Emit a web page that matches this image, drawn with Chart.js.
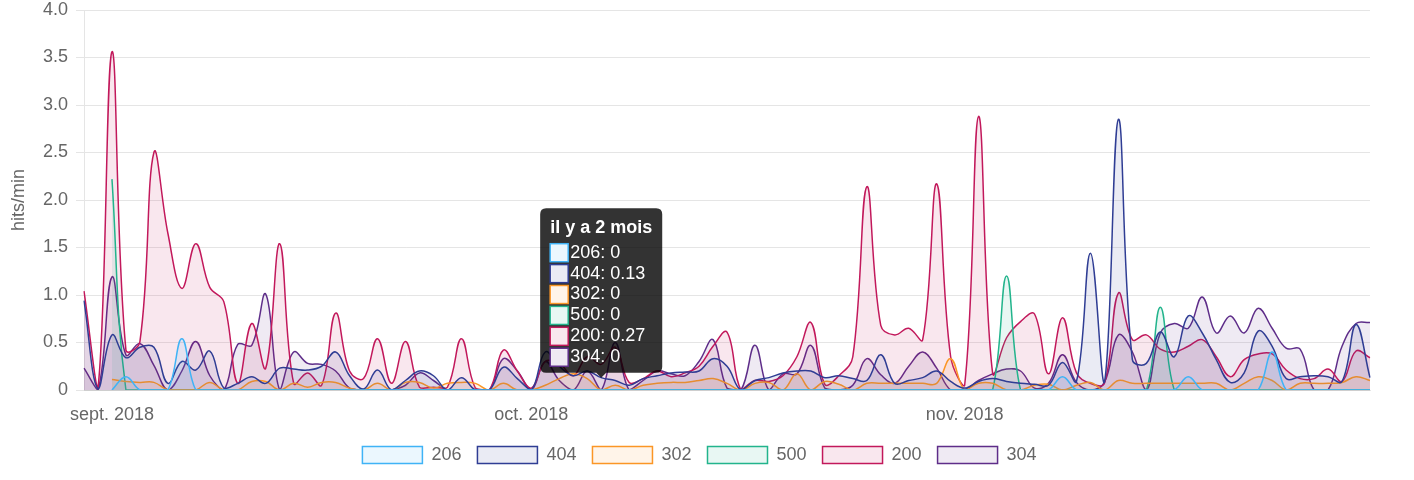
<!DOCTYPE html>
<html>
<head>
<meta charset="utf-8">
<script src="https://cdn.jsdelivr.net/npm/chart.js@4/dist/chart.umd.min.js"></script>
<style>
  html, body { margin: 0; padding: 0; background: #fff; }
  #wrap { width: 1414px; height: 480px; }
</style>
</head>
<body>
<div id="wrap"><canvas id="c" width="1414" height="480"></canvas></div>
<script>
// Categories: one point per day, 30 Aug 2018 -> 30 Nov 2018
const days = [
  '08-30','08-31',
  '09-01','09-02','09-03','09-04','09-05','09-06','09-07','09-08','09-09','09-10',
  '09-11','09-12','09-13','09-14','09-15','09-16','09-17','09-18','09-19','09-20',
  '09-21','09-22','09-23','09-24','09-25','09-26','09-27','09-28','09-29','09-30',
  '10-01','10-02','10-03','10-04','10-05','10-06','10-07','10-08','10-09','10-10',
  '10-11','10-12','10-13','10-14','10-15','10-16','10-17','10-18','10-19','10-20',
  '10-21','10-22','10-23','10-24','10-25','10-26','10-27','10-28','10-29','10-30','10-31',
  '11-01','11-02','11-03','11-04','11-05','11-06','11-07','11-08','11-09','11-10',
  '11-11','11-12','11-13','11-14','11-15','11-16','11-17','11-18','11-19','11-20',
  '11-21','11-22','11-23','11-24','11-25','11-26','11-27','11-28','11-29','11-30'
];
// Tick labels (month starts)
const tickDays = ['09-01', '10-01', '11-01'];
const tickLabels = ['sept. 2018', 'oct. 2018', 'nov. 2018'];

// Series (hits/min)
const s206 = [
  null,null,0,0.14,0,0,0,0.54,0,0,
  0,0,0,0,0,0,0,0,0,0,
  0,0,0,0,0,0,0,0,0,0,
  0,0,0,0,0,0,0,0,0,0,
  0,0,0,0,0,0,0,0,0,0,
  0,0,0,0,0,0,0,0,0,0,
  0,0,0,0,0,0,0,0,0,0,
  0.14,0,0,0,0,0,0,0,0,0.14,
  0,0,0,0,0,0.40,0,0,0,0,
  0,0,0
];
const s404 = [
  0.94,0.01,0.58,0.34,0.45,0.45,0.07,0.30,0.21,0.41,
  0.02,0.07,0.14,0.07,0.23,0.22,0.21,0.25,0.40,0.15,
  0.01,0.21,0,0.10,0.20,0.15,0,0.13,0,0,
  0.24,0.12,0,0.40,0.25,0.15,0.20,0.13,0.10,0.05,
  0.12,0.15,0.18,0.19,0.20,0.33,0.25,0,0.10,0.13,
  0.18,0.20,0.20,0.13,0.15,0.12,0.10,0.37,0.07,0.10,
  0.13,0.20,0.09,0.02,0.09,0.12,0.09,0.07,0.06,0.05,
  0.29,0.09,1.44,0.08,2.85,0.32,0.28,0.61,0.35,0.78,
  0.60,0.32,0.08,0.18,0.62,0.46,0.12,0.14,0.15,0.14,
  0.09,0.69,0.13
];
const s302 = [
  null,null,0.11,0.09,0.08,0.08,0,0,0,0.08,
  0,0,0.09,0.09,0,0.07,0.03,0.08,0.08,0.02,
  0,0.07,0,0.08,0.08,0.02,0.07,0.08,0.07,0,
  0.07,0,0,0.05,0.12,0.17,0.12,0,0.05,0,
  0.05,0.07,0.08,0.08,0.10,0.12,0.07,0,0.07,0.08,
  0,0.17,0,0.09,0.06,0,0.07,0.07,0.07,0.07,
  0.07,0.07,0.33,0,0.07,0.07,0,0,0.05,0.06,
  0,0.05,0.08,0,0.10,0.07,0.07,0.07,0.07,0.07,
  0.07,0.07,0,0.07,0.14,0.10,0,0.07,0.07,0.07,
  0.08,0.14,0.10
];
const s500 = [
  null,null,2.22,0,0,0,0,0,0,0,
  0,0,0,0,0,0,0,0,0,0,
  0,0,0,0,0,0,0,0,0,0,
  0,0,0,0,0,0,0,0,0,0,
  0,0,0,0,0,0,0,0,0,0,
  0,0,0,0,0,0,0,0,0,0,
  0,0,0,0,0,0,1.20,0,0,0,
  0,0,0,0,0,0,0,0.87,0,0,
  0,0,0,0,0,0,0,0,0,0,
  0,0,0
];
const s200 = [
  1.04,0.02,3.56,0.42,0.51,2.50,1.65,1.07,1.54,1.08,
  0.93,0.07,0.70,0.23,1.54,0.07,0.18,0.05,0.81,0.20,
  0.12,0.54,0.07,0.51,0.03,0.03,0.03,0.54,0.02,0,
  0.42,0.20,0.02,0.30,0.28,0.15,0.35,0.27,0.45,0.08,
  0.12,0.20,0.14,0.18,0.25,0.46,0.61,0,0.10,0.09,
  0.15,0.35,0.71,0.06,0.15,0.35,2.14,0.68,0.58,0.65,
  0.53,2.17,0.35,0.05,2.88,0.18,0.55,0.72,0.80,0.17,
  0.76,0.18,0.07,0.07,1.02,0.53,0.58,0.43,0.40,0.46,
  0.53,0.35,0.14,0.32,0.38,0.38,0.21,0.12,0.12,0.22,
  0.09,0.41,0.34
];
const s304 = [
  0.23,0,1.19,0.37,0.49,0.26,0,0.20,0.51,0.15,
  0,0.48,0.47,1.01,0,0.40,0.28,0.27,0.20,0.02,
  0,0,0,0.05,0.18,0.10,0,0,0,0,
  0.33,0.20,0,0.30,0.10,0,0.20,0,0.50,0,
  0.10,0.20,0.17,0.15,0.30,0.53,0.02,0,0.47,0,
  0.17,0.17,0.47,0.02,0,0.05,0.33,0.16,0.07,0.25,
  0.40,0.23,0,0,0.10,0.17,0.22,0.20,0.02,0.07,
  0.37,0.08,0,0.08,0.58,0.40,0,0.60,0.70,0.65,
  0.98,0.60,0.78,0.60,0.86,0.65,0.44,0.43,0,0,
  0.46,0.70,0.71
];

const seriesNames = ['206', '404', '302', '500', '200', '304'];
const seriesData = [s206, s404, s302, s500, s200, s304];
const lineColors = ['#3fb3f6', '#2f3d94', '#fb9626', '#22b48c', '#c2185b', '#5e2d89'];
const fillColors = ['rgba(63,179,246,0.1)', 'rgba(47,61,148,0.1)', 'rgba(251,150,38,0.1)',
                    'rgba(34,180,140,0.1)', 'rgba(194,24,91,0.1)', 'rgba(94,45,137,0.1)'];

const tooltipDay = '10-06';
const tooltipTitle = 'il y a 2 mois';

Chart.defaults.font.family = "'Liberation Sans', Arial, Helvetica, sans-serif";
Chart.defaults.font.size = 18;
Chart.defaults.color = '#666';

// Tooltip placed above the hovered points, caret pointing down
Chart.Tooltip.positioners.aboveAverage = function (elements, eventPosition) {
  const pos = Chart.Tooltip.positioners.average.call(this, elements, eventPosition);
  if (!pos) return false;
  return { x: pos.x, y: pos.y, xAlign: 'center', yAlign: 'bottom' };
};

const datasets = seriesNames.map((name, i) => ({
  label: name,
  data: seriesData[i],
  borderColor: lineColors[i],
  backgroundColor: fillColors[i],
  borderWidth: 1.5,
  fill: 'origin',
  tension: 0.4,
  pointRadius: 0,
  pointHoverRadius: 0,
  pointHitRadius: 0
}));

const chart = new Chart(document.getElementById('c'), {
  type: 'line',
  data: { labels: days, datasets: datasets },
  options: {
    responsive: false,
    animation: false,
    devicePixelRatio: 1,
    locale: 'en-US',
    events: [],
    layout: { padding: { left: 0, right: 15, top: 0, bottom: 6 } },
    interaction: { mode: 'index', intersect: false },
    scales: {
      x: {
        type: 'category',
        grid: { display: false, drawTicks: false },
        border: { display: true, color: 'rgba(0,0,0,0.1)' },
        ticks: {
          autoSkip: false,
          maxRotation: 0,
          minRotation: 0,
          padding: 11,
          color: '#666',
          font: { size: 18, lineHeight: 1.6 },
          callback: function (value, index) {
            const k = tickDays.indexOf(days[index]);
            return k >= 0 ? tickLabels[k] : '';
          }
        },
        afterFit: function (s) { s.paddingRight = 44; s.paddingLeft = 0; s.height = 40; }
      },
      y: {
        min: 0,
        max: 4,
        grid: { color: 'rgba(0,0,0,0.1)', tickLength: 8 },
        border: { color: 'rgba(0,0,0,0.1)' },
        ticks: { stepSize: 0.5, padding: 8, color: '#666', font: { size: 18 } },
        title: {
          display: true,
          text: 'hits/min',
          color: '#666',
          font: { size: 18 },
          padding: { top: 8, bottom: 12 }
        },
        afterFit: function (s) { s.width = 84; s.paddingTop = 10; s.paddingBottom = 0; }
      }
    },
    plugins: {
      legend: {
        position: 'bottom',
        labels: {
          boxWidth: 60,
          boxHeight: 17,
          padding: 16,
          color: '#666',
          font: { size: 18 }
        }
      },
      tooltip: {
        enabled: true,
        mode: 'index',
        intersect: false,
        position: 'aboveAverage',
        backgroundColor: 'rgba(0,0,0,0.8)',
        titleColor: '#fff',
        bodyColor: '#fff',
        titleFont: { size: 18, weight: 'bold', lineHeight: 1.05 },
        bodyFont: { size: 18, lineHeight: 1.05 },
        padding: { top: 10, bottom: 6, left: 10, right: 10 },
        cornerRadius: 6,
        caretSize: 5,
        caretPadding: 6,
        bodySpacing: 2,
        titleMarginBottom: 6,
        boxWidth: 18,
        boxHeight: 18,
        callbacks: {
          title: function () { return tooltipTitle; }
        }
      }
    }
  }
});

const tipIndex = days.indexOf(tooltipDay);
chart.tooltip.setActiveElements(
  datasets.map((d, i) => ({ datasetIndex: i, index: tipIndex })),
  { x: 0, y: 0 }
);
chart.update();
</script>
</body>
</html>
